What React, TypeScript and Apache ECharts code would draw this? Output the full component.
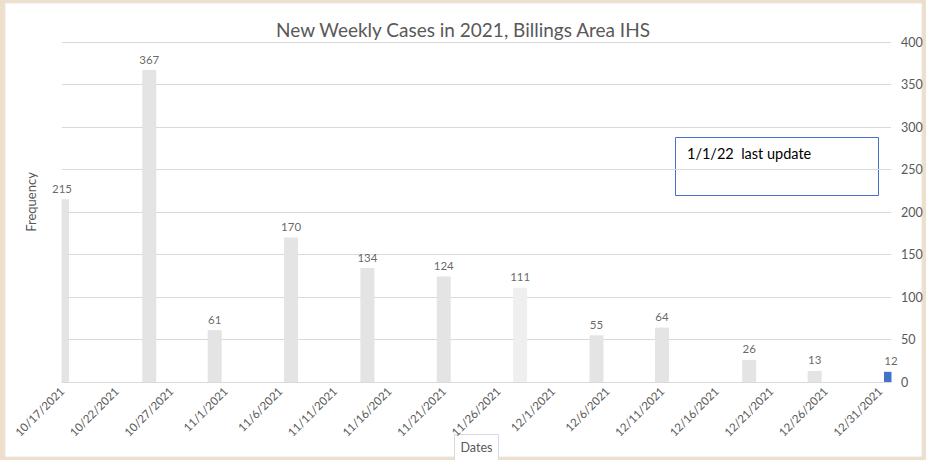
import React, { useEffect, useRef } from "react";
import * as echarts from "echarts";

const startDate = "10/17/2021";
const endDate = "1/1/2022";
const barDates = [
  "10/17/2021", "10/25/2021", "10/31/2021", "11/7/2021", "11/14/2021", "11/21/2021",
  "11/28/2021", "12/5/2021", "12/11/2021", "12/19/2021", "12/25/2021", "1/1/2022",
];
const weeklyCases = [215, 367, 61, 170, 134, 124, 111, 55, 64, 26, 13, 12];
const barColors = [
  "#e4e4e4", "#e4e4e4", "#e4e4e4", "#e4e4e4", "#e4e4e4", "#e4e4e4",
  "#efefef", "#e4e4e4", "#e4e4e4", "#e4e4e4", "#e4e4e4", "#4472c4",
];
const yTicks = [0, 50, 100, 150, 200, 250, 300, 350, 400];
const titleText = "New Weekly Cases in 2021, Billings Area IHS";
const noteText = "1/1/22  last update";

const DAY = 86400000;
const parse = (s: string) => {
  const [m, d, y] = s.split("/").map(Number);
  return Date.UTC(y, m - 1, d);
};
const t0 = parse(startDate);
const dayIndex = (s: string) => Math.round((parse(s) - t0) / DAY);
const fmt = (v: number) => {
  const d = new Date(t0 + v * DAY);
  return `${d.getUTCMonth() + 1}/${d.getUTCDate()}/${d.getUTCFullYear()}`;
};

const FONT = "Lato";

export default function App() {
  const ref = useRef<HTMLDivElement>(null);
  useEffect(() => {
    if (!ref.current) return;
    const chart = echarts.init(ref.current, undefined, { renderer: "svg" });
    const pts = barDates.map((d, i) => [dayIndex(d), weeklyCases[i]]);
    chart.setOption({
      animation: false,
      backgroundColor: "#eedfcb",
      textStyle: { fontFamily: FONT },
      title: {
        text: titleText,
        left: "center",
        top: 15,
        textStyle: { fontFamily: FONT, fontSize: 19, fontWeight: "normal", color: "#595959" },
      },
      grid: { left: 62, right: 35, top: 42, bottom: 78 },
      xAxis: {
        type: "value",
        min: 0,
        max: dayIndex(endDate),
        interval: 5,
        axisLine: { show: true, lineStyle: { color: "#d9d9d9" } },
        axisTick: { show: false },
        splitLine: { show: false },
        axisLabel: {
          rotate: 45,
          margin: 7,
          fontSize: 11.5,
          fontFamily: FONT,
          color: "#595959",
          formatter: (v: number) => (v % 5 === 0 ? fmt(v) : ""),
        },
      },
      yAxis: {
        type: "value",
        position: "right",
        min: yTicks[0],
        max: yTicks[yTicks.length - 1],
        interval: 50,
        axisLine: { show: false },
        axisTick: { show: false },
        splitLine: { lineStyle: { color: "#d9d9d9" } },
        axisLabel: { fontSize: 12.5, fontFamily: FONT, color: "#595959", margin: 10 },
      },
      graphic: [
        {
          type: "rect",
          z: -10,
          shape: { x: 5, y: 3, width: 917, height: 454 },
          style: { fill: "#ffffff", stroke: "#e6e6e6", lineWidth: 1 },
        },
        {
          type: "rect",
          z: 100,
          shape: { x: 50, y: 190, width: 11.5, height: 192 },
          style: { fill: "#ffffff" },
        },
        {
          type: "rect",
          z: 100,
          shape: { x: 891.5, y: 364, width: 9, height: 18 },
          style: { fill: "#ffffff" },
        },
        {
          type: "text",
          x: 31,
          y: 202,
          rotation: Math.PI / 2,
          style: {
            text: "Frequency",
            fill: "#595959",
            font: `13px ${FONT}`,
            align: "center",
            verticalAlign: "middle",
          },
        },
        {
          type: "rect",
          shape: { x: 454.5, y: 434.5, width: 44, height: 30 },
          style: { fill: "#ffffff", stroke: "#d3dbe8", lineWidth: 1 },
        },
        {
          type: "text",
          x: 476.5,
          y: 447,
          style: {
            text: "Dates",
            fill: "#595959",
            font: `12.5px ${FONT}`,
            align: "center",
            verticalAlign: "middle",
          },
        },
        {
          type: "rect",
          shape: { x: 675.5, y: 137.5, width: 203, height: 58 },
          style: { fill: "#ffffff", stroke: "#4472c4", lineWidth: 1 },
        },
        {
          type: "text",
          x: 687,
          y: 153,
          style: {
            text: noteText,
            fill: "#000000",
            font: `14.5px ${FONT}`,
            align: "left",
            verticalAlign: "middle",
          },
        },
      ],
      series: [
        {
          type: "bar",
          barWidth: 14,
          data: pts.map((p, i) => ({ value: p, itemStyle: { color: barColors[i] } })),
        },
        {
          type: "scatter",
          symbolSize: 0,
          clip: false,
          silent: true,
          z: 110,
          data: pts,
          label: {
            show: true,
            position: "top",
            distance: 5,
            fontSize: 11.5,
            fontFamily: FONT,
            color: "#404040",
            formatter: (p: any) => String(p.value[1]),
          },
        },
      ],
    });
    return () => chart.dispose();
  }, []);
  return (
    <div
      ref={ref}
      style={{ position: "absolute", left: 0, top: 0, width: 926, height: 460 }}
    />
  );
}
